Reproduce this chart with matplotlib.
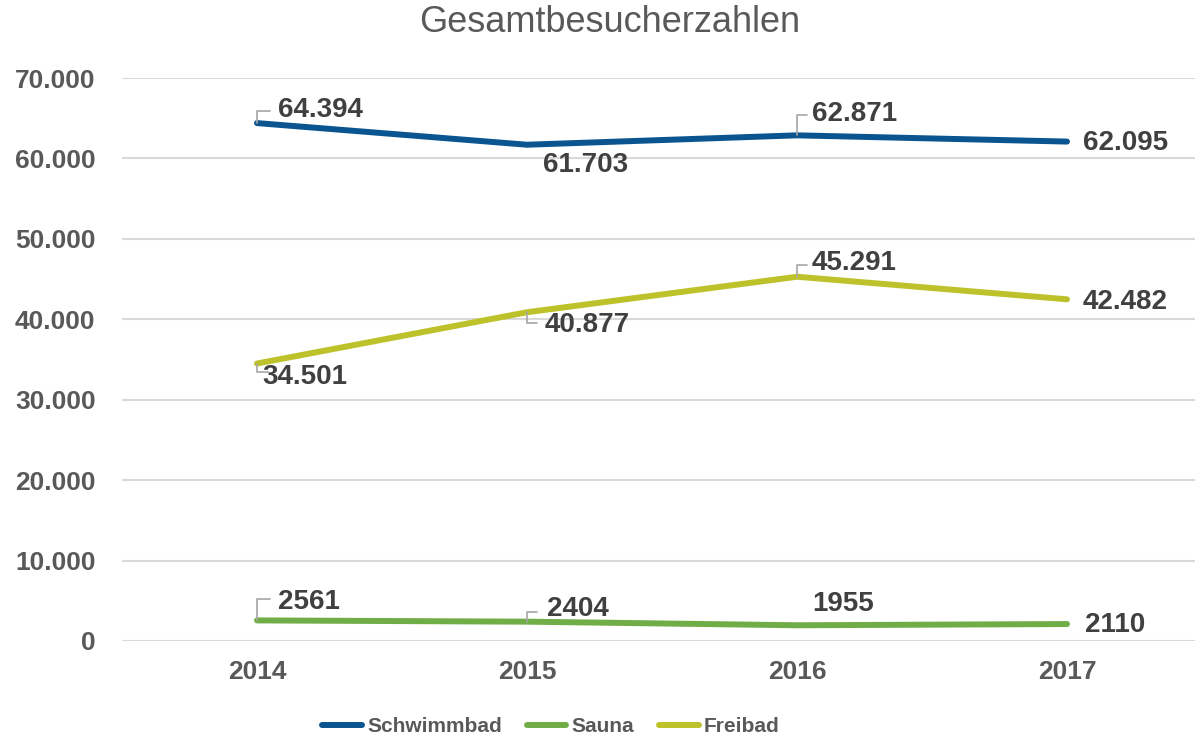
import matplotlib
matplotlib.use("Agg")
import matplotlib.pyplot as plt
from matplotlib.ticker import FuncFormatter

plt.rcParams['font.family'] = ['Liberation Sans', 'DejaVu Sans']

years = ["2014", "2015", "2016", "2017"]
schwimmbad = [64394, 61703, 62871, 62095]
sauna = [2561, 2404, 1955, 2110]
freibad = [34501, 40877, 45291, 42482]

series_names = ["Schwimmbad", "Sauna", "Freibad"]
colors = ["#0a5590", "#70ad47", "#bdc22b"]

# label offsets in pixels (text dx, dy) and optional leader corner (dx, dy)
label_offsets = {
    "Schwimmbad": [(21, 13), (16, -20), (15, 21), (16, -1)],
    "Sauna": [(21, 18), (20, 13), (15, 21), (18, -1)],
    "Freibad": [(5, -13), (18, -13), (15, 14), (16, -3)],
}
leaders = {
    "Schwimmbad": [(13, 12), None, (10, 20), None],
    "Sauna": [(13, 21), (10, 10), None, None],
    "Freibad": [(11, -8), (10, -11), (10, 12), None],
}


def fmt_de(v):
    return f"{v:,.0f}".replace(",", ".")


fig = plt.figure(figsize=(11.95, 7.42), dpi=100)
ax = fig.add_axes([122 / 1195, 1 - 641 / 742, 1080 / 1195, (641 - 78) / 742])

x = range(len(years))
data = {"Schwimmbad": schwimmbad, "Sauna": sauna, "Freibad": freibad}
for name, col in zip(series_names, colors):
    ax.plot(x, data[name], color=col, lw=4.3, solid_capstyle='round', label=name, zorder=3)
    for i, v in enumerate(data[name]):
        txt = fmt_de(v) if name != "Sauna" else str(v)
        dx, dy = label_offsets[name][i]
        ax.annotate(txt, xy=(i, v), xytext=(dx, dy), textcoords='offset pixels',
                    ha='left', va='center', fontsize=20, fontweight='bold',
                    color='#404040', zorder=5)
        ld = leaders[name][i]
        if ld is not None:
            ax.annotate('', xy=(i, v), xytext=ld, textcoords='offset pixels',
                        arrowprops=dict(arrowstyle='-', color='#a6a6a6', lw=1.2,
                                        connectionstyle='angle,angleA=0,angleB=90,rad=0',
                                        shrinkA=0, shrinkB=0), zorder=4)

ax.set_xlim(-0.5, 3.5)
ax.set_ylim(0, 70000)
ax.set_yticks(range(0, 70001, 10000))
ax.yaxis.set_major_formatter(FuncFormatter(lambda v, p: fmt_de(v)))
ax.set_xticks(list(x))
ax.set_xticklabels(years)
ax.grid(axis='y', color='#d9d9d9', lw=1.5, zorder=0)
ax.set_axisbelow(True)
for s in ax.spines.values():
    s.set_visible(False)
ax.tick_params(length=0, labelsize=19, labelcolor='#595959')
for lab in ax.get_xticklabels() + ax.get_yticklabels():
    lab.set_fontweight('bold')
ax.tick_params(axis='x', pad=14)
ax.tick_params(axis='y', pad=19)

fig.text(610 / 1195, 1 - 22 / 742, "Gesamtbesucherzahlen", ha='center', va='center',
         fontsize=26, color='#595959')

leg = fig.legend(loc='center', bbox_to_anchor=(551 / 1195, 1 - 727 / 742), ncol=3,
                 frameon=False, handlelength=1.9, handletextpad=0.25, columnspacing=1.2,
                 prop={'size': 15, 'weight': 'bold'})
for t in leg.get_texts():
    t.set_color('#595959')

fig.savefig("out.png", dpi=100)
